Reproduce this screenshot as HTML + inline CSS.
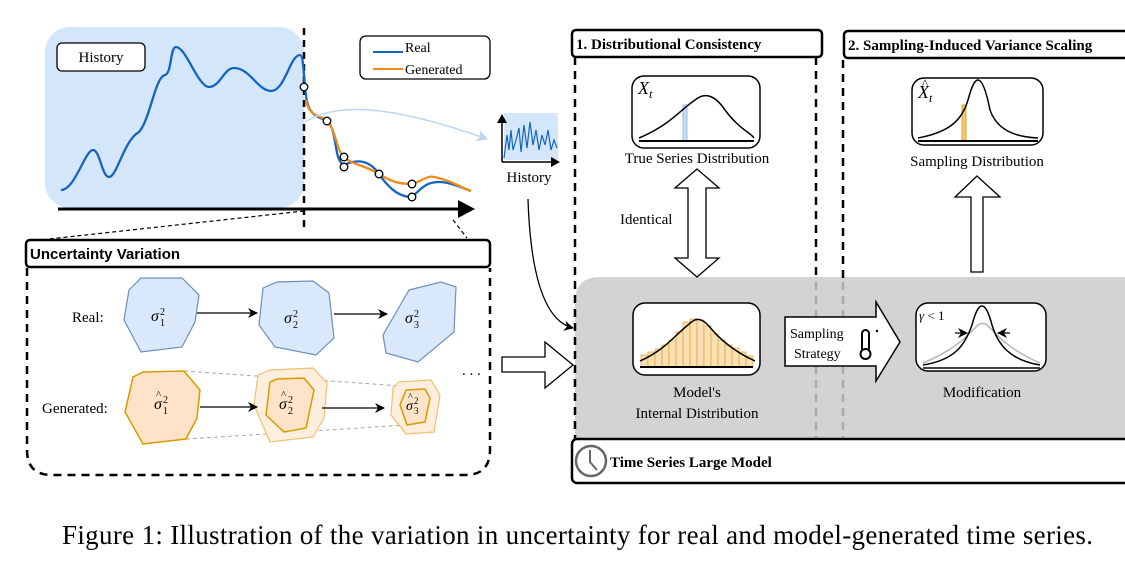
<!DOCTYPE html>
<html><head><meta charset="utf-8"><style>
html,body{margin:0;padding:0;background:#fff;width:1125px;height:573px;overflow:hidden}
svg{display:block}
.s{font-family:"Liberation Serif",serif}
.a{font-family:"Liberation Sans",sans-serif}
</style></head><body>
<svg width="1125" height="573" viewBox="0 0 1125 573" xmlns="http://www.w3.org/2000/svg">
<defs>
<marker id="ah" markerWidth="10" markerHeight="10" refX="9" refY="5" orient="auto" markerUnits="userSpaceOnUse"><path d="M0,0 L10,5 L0,10 L3,5 Z" fill="#000"/></marker>
<marker id="ahb" markerWidth="12" markerHeight="12" refX="10" refY="6" orient="auto" markerUnits="userSpaceOnUse"><path d="M0,0 L11,6 L0,12 L3,6 Z" fill="#bcd6f0"/></marker>
</defs>
<rect x="45" y="27" width="259" height="181" rx="25" fill="#d4e6fa"/>
<rect x="57" y="43" width="88" height="28" rx="5" fill="#fff" stroke="#000" stroke-width="1.3"/>
<text x="101" y="62" class="s" font-size="15" text-anchor="middle">History</text>
<line x1="304" y1="28" x2="304" y2="228" stroke="#000" stroke-width="2.5" stroke-dasharray="7,5"/>
<line x1="58" y1="209" x2="462" y2="209" stroke="#000" stroke-width="3"/>
<path d="M458,200 L475,209 L458,218 Z" fill="#000"/>
<rect x="360" y="36" width="130" height="43" rx="6" fill="#fff" stroke="#000" stroke-width="1.3"/>
<line x1="373" y1="52" x2="403" y2="52" stroke="#1565c0" stroke-width="2"/>
<text x="405" y="52" class="s" font-size="14">Real</text>
<line x1="373" y1="69" x2="403" y2="69" stroke="#f08a1c" stroke-width="2"/>
<text x="405" y="74" class="s" font-size="14">Generated</text>
<path d="M61,190 C75,190 85,150 93,150 C100,150 102,177 109,177 C117,177 124,140 139,132 C150,120 155,77 165,75 C172,73 170,47 176,47 C186,47 198,87 209,87 C220,87 224,68 234,68 C250,68 258,91 271,91 C285,91 290,55 300,55 C304,55 304,85 306,95 C308,120 325,118 327,121 C338,130 333,160 344,165 C355,160 368,158 379,174 C390,190 400,197 412,197 C420,190 425,182 439,182 C450,182 462,188 471,191" fill="none" stroke="#1565c0" stroke-width="2.3"/>
<path d="M306,100 C309,118 322,115 327,121 C336,130 336,150 344,157 C352,165 365,165 379,174 C390,181 398,184 412,184 C420,182 428,175 434,177 C450,180 462,188 471,191" fill="none" stroke="#f08a1c" stroke-width="2.3"/>
<g fill="#fff" stroke="#000" stroke-width="1.3">
<circle cx="304" cy="87" r="3.8"/><circle cx="327" cy="121" r="3.8"/><circle cx="344" cy="157" r="3.8"/><circle cx="344" cy="167" r="3.8"/><circle cx="379" cy="174" r="3.8"/><circle cx="412" cy="184" r="3.8"/><circle cx="412" cy="197" r="3.8"/>
</g>
<path d="M305,122 C340,100 400,108 487,139" fill="none" stroke="#bcd6f0" stroke-width="1.5" marker-end="url(#ahb)"/>
<rect x="504" y="113" width="54" height="47" fill="#d4e6fa"/>
<polyline points="504,158 507,135 509,150 511,130 513,150 516,140 519,128 521,152 524,125 527,148 530,122 533,145 536,130 539,150 542,135 545,145 548,130 551,150 554,140 557,148" fill="none" stroke="#1565c0" stroke-width="1.2"/>
<line x1="502" y1="162" x2="502" y2="120" stroke="#000" stroke-width="1.5"/>
<path d="M497,123 L502,114 L507,123 Z" fill="#000"/>
<line x1="502" y1="162" x2="552" y2="162" stroke="#000" stroke-width="1.5"/>
<path d="M551,157 L560,162 L551,167 Z" fill="#000"/>
<text x="529" y="182" class="s" font-size="15" text-anchor="middle">History</text>
<path d="M528,199 C530,260 540,320 573,328" fill="none" stroke="#000" stroke-width="1.3" marker-end="url(#ah)"/>
<line x1="304" y1="211" x2="40" y2="240" stroke="#000" stroke-width="1.2" stroke-dasharray="4,3"/>
<line x1="453" y1="220" x2="467" y2="238" stroke="#000" stroke-width="1.2" stroke-dasharray="4,3"/>
<path d="M27,268 L27,450 Q27,475 52,475 L465,475 Q490,475 490,450 L490,268" fill="none" stroke="#000" stroke-width="2.5" stroke-dasharray="8,6"/>
<rect x="26" y="240" width="464" height="27" rx="4" fill="#fff" stroke="#000" stroke-width="2.5"/>
<text x="30" y="259" class="a" font-size="15" font-weight="bold">Uncertainty Variation</text>
<text x="72" y="322" class="s" font-size="15">Real:</text>
<text x="42" y="413" class="s" font-size="15">Generated:</text>
<g fill="#dae8fc" stroke="#6c8ebf" stroke-width="1.2">
<polygon points="129,290 141,278 182,278 199,295 195,322 182,347 141,352 124,320"/>
<polygon points="263,288 277,282 313,281 329,293 334,338 316,355 275,347 259,325"/>
<polygon points="409,290 441,282 456,287 454,332 418,362 386,353 383,335"/>
</g>
<line x1="197" y1="313" x2="257" y2="313" stroke="#000" stroke-width="1.3" marker-end="url(#ah)"/>
<line x1="334" y1="314" x2="387" y2="314" stroke="#000" stroke-width="1.3" marker-end="url(#ah)"/>
<text x="462" y="375" class="s" font-size="15">. . .</text>
<line x1="184" y1="371" x2="431" y2="388" stroke="#aaa" stroke-width="1" stroke-dasharray="4,3"/>
<line x1="186" y1="439" x2="407" y2="425" stroke="#aaa" stroke-width="1" stroke-dasharray="4,3"/>
<polygon points="143,372 184,371 200,390 197,418 186,439 143,444 125,412 133,377" fill="#ffe3c8" stroke="#d79b00" stroke-width="1.5"/>
<polygon points="258,375 270,370 313,368 327,383 324,418 313,437 270,442 254,405" fill="#fdeedd" stroke="#f0c070" stroke-width="1.2"/>
<polygon points="270,382 277,379 304,378 314,390 306,428 284,432 266,415" fill="#ffe3c8" stroke="#d79b00" stroke-width="1.5"/>
<polygon points="399,382 431,380 440,395 434,432 406,434 391,415 393,388" fill="#fdeedd" stroke="#f0c070" stroke-width="1.2"/>
<polygon points="406,390 425,389 430,398 425,422 407,425 400,405" fill="#ffe3c8" stroke="#d79b00" stroke-width="1.5"/>
<line x1="200" y1="407" x2="257" y2="407" stroke="#000" stroke-width="1.3" marker-end="url(#ah)"/>
<line x1="322" y1="408" x2="384" y2="408" stroke="#000" stroke-width="1.3" marker-end="url(#ah)"/>
<g class="s" font-size="16">
<text x="151" y="321" font-style="italic">σ</text><text x="160" y="315" font-size="10">2</text><text x="160" y="326" font-size="10">1</text>
<text x="284" y="323" font-style="italic">σ</text><text x="293" y="317" font-size="10">2</text><text x="293" y="328" font-size="10">2</text>
<text x="405" y="323" font-style="italic">σ</text><text x="414" y="317" font-size="10">2</text><text x="414" y="328" font-size="10">3</text>
<text x="154" y="409" font-style="italic">σ</text><text x="156" y="398" font-size="11">^</text><text x="163" y="403" font-size="10">2</text><text x="163" y="414" font-size="10">1</text>
<text x="279" y="409" font-style="italic">σ</text><text x="281" y="398" font-size="11">^</text><text x="288" y="403" font-size="10">2</text><text x="288" y="414" font-size="10">2</text>
<text x="406" y="410" font-style="italic" font-size="14">σ</text><text x="408" y="400" font-size="10">^</text><text x="414" y="404" font-size="9">2</text><text x="414" y="414" font-size="9">3</text>
</g>
<path d="M502,357 L545,357 L545,342 L573,365 L545,388 L545,372 L502,372 Z" fill="#fff" stroke="#000" stroke-width="1.3"/>
<path d="M600,277 L1125,277 L1125,440 L575,440 L575,302 Q575,277 600,277 Z" fill="#d3d3d3"/>
<line x1="575" y1="57" x2="575" y2="440" stroke="#000" stroke-width="2.5" stroke-dasharray="8,6"/>
<line x1="816" y1="57" x2="816" y2="278" stroke="#000" stroke-width="2.5" stroke-dasharray="8,6"/>
<line x1="816" y1="282" x2="816" y2="438" stroke="#aaa" stroke-width="2.5" stroke-dasharray="8,6"/>
<line x1="843" y1="60" x2="843" y2="278" stroke="#000" stroke-width="2.5" stroke-dasharray="8,6"/>
<line x1="843" y1="282" x2="843" y2="438" stroke="#aaa" stroke-width="2.5" stroke-dasharray="8,6"/>
<rect x="572" y="30" width="250" height="27" rx="4" fill="#fff" stroke="#000" stroke-width="2.5"/>
<text x="576" y="49" class="s" font-size="15" font-weight="bold">1. Distributional Consistency</text>
<rect x="844" y="31" width="290" height="27" rx="4" fill="#fff" stroke="#000" stroke-width="2.5"/>
<text x="848" y="50" class="s" font-size="15" font-weight="bold">2. Sampling-Induced Variance Scaling</text>
<rect x="632" y="76" width="128" height="72" rx="12" fill="#fff" stroke="#000" stroke-width="1.5"/>
<text x="638" y="94" class="s" font-size="18" font-style="italic">X<tspan font-size="12" dy="4">t</tspan></text>
<rect x="683" y="105" width="4" height="36" fill="#c6dcf5" stroke="#8ab0e0" stroke-width="0.8"/>
<path d="M639,138 C670,125 680,110 695,100 C705,92 715,95 725,110 C740,130 750,132 754,138" fill="none" stroke="#000" stroke-width="1.5"/>
<line x1="639" y1="141" x2="754" y2="141" stroke="#000" stroke-width="2"/>
<text x="697" y="163" class="s" font-size="15" text-anchor="middle">True Series Distribution</text>
<path d="M697,169 L719,188 L706,188 L706,258 L719,258 L697,277 L675,258 L688,258 L688,188 L675,188 Z" fill="#fff" stroke="#000" stroke-width="1.3"/>
<text x="620" y="224" class="s" font-size="15">Identical</text>
<rect x="912" y="78" width="131" height="67" rx="12" fill="#fff" stroke="#000" stroke-width="1.5"/>
<text x="918" y="98" class="s" font-size="18" font-style="italic">X<tspan font-size="12" dy="4">t</tspan></text>
<text x="922" y="88" class="s" font-size="13">^</text>
<rect x="962" y="105" width="4" height="35" fill="#f5c77a" stroke="#d79b00" stroke-width="0.8"/>
<path d="M918,138 C950,132 962,120 968,100 C972,85 975,80 978,80 C983,80 987,95 990,110 C997,130 1015,137 1038,138" fill="none" stroke="#000" stroke-width="1.5"/>
<line x1="918" y1="141" x2="1038" y2="141" stroke="#000" stroke-width="2"/>
<text x="977" y="166" class="s" font-size="15" text-anchor="middle">Sampling Distribution</text>
<path d="M977,176 L1000,197 L983,197 L983,272 L971,272 L971,197 L955,197 Z" fill="#fff" stroke="#000" stroke-width="1.3"/>
<rect x="633" y="303" width="127" height="72" rx="12" fill="#fff" stroke="#000" stroke-width="1.5"/>
<g fill="#fbe0b4" stroke="#e0a030" stroke-width="0.7">
<rect x="641" y="355" width="7" height="12"/><rect x="648" y="352" width="7" height="15"/><rect x="655" y="349" width="7" height="18"/><rect x="662" y="345" width="7" height="22"/><rect x="669" y="340" width="7" height="27"/><rect x="676" y="332" width="7" height="35"/><rect x="683" y="322" width="7" height="45"/><rect x="690" y="319" width="7" height="48"/><rect x="697" y="320" width="7" height="47"/><rect x="704" y="326" width="7" height="41"/><rect x="711" y="334" width="7" height="33"/><rect x="718" y="340" width="7" height="27"/><rect x="725" y="345" width="7" height="22"/><rect x="732" y="348" width="7" height="19"/><rect x="739" y="352" width="7" height="15"/><rect x="746" y="356" width="7" height="11"/>
</g>
<path d="M640,361 C665,350 675,335 688,325 C695,318 700,317 708,325 C720,340 735,352 755,361" fill="none" stroke="#000" stroke-width="1.5"/>
<line x1="640" y1="367" x2="753" y2="367" stroke="#000" stroke-width="2"/>
<text x="697" y="397" class="s" font-size="15" text-anchor="middle">Model's</text>
<text x="697" y="418" class="s" font-size="15" text-anchor="middle">Internal Distribution</text>
<path d="M785,317 L876,317 L876,302 L900,342 L876,381 L876,366 L785,366 Z" fill="#fff" stroke="#000" stroke-width="1.5"/>
<text x="790" y="338" class="s" font-size="14">Sampling</text>
<text x="794" y="358" class="s" font-size="14">Strategy</text>
<rect x="862" y="330" width="7" height="22" rx="3.5" fill="#fff" stroke="#000" stroke-width="2"/>
<circle cx="865.5" cy="354" r="5" fill="#fff" stroke="#000" stroke-width="2"/>
<circle cx="877" cy="331" r="1.2" fill="#000"/>
<rect x="916" y="303" width="130" height="68" rx="12" fill="#fff" stroke="#000" stroke-width="1.5"/>
<text x="919" y="320" class="s" font-size="13" font-style="italic">γ <tspan font-style="normal">&lt; 1</tspan></text>
<path d="M923,363 C955,350 968,335 975,328 C980,322 985,322 990,328 C998,336 1010,350 1040,363" fill="none" stroke="#b5b5b5" stroke-width="1.5"/>
<path d="M923,365 C955,360 965,345 972,325 C976,310 979,306 982,306 C985,306 988,310 992,325 C998,345 1010,360 1040,365" fill="none" stroke="#000" stroke-width="1.5"/>
<line x1="923" y1="368" x2="1040" y2="368" stroke="#000" stroke-width="1.5"/>
<line x1="955" y1="333" x2="967" y2="333" stroke="#000" stroke-width="1.2" marker-end="url(#ah)"/>
<line x1="1010" y1="333" x2="998" y2="333" stroke="#000" stroke-width="1.2" marker-end="url(#ah)"/>
<text x="982" y="397" class="s" font-size="15" text-anchor="middle">Modification</text>
<rect x="572" y="439" width="570" height="44" rx="5" fill="#fff" stroke="#000" stroke-width="2.5"/>
<circle cx="591" cy="461" r="15" fill="#fff" stroke="#666" stroke-width="2.5"/>
<polyline points="590,450 590,462 597,470" fill="none" stroke="#666" stroke-width="2"/>
<text x="610" y="467" class="s" font-size="15" font-weight="bold">Time Series Large Model</text>
<text x="62" y="544" font-family="Liberation Serif, serif" font-size="27" textLength="1031" lengthAdjust="spacing">Figure 1: Illustration of the variation in uncertainty for real and model-generated time series.</text>
</svg>
</body></html>
